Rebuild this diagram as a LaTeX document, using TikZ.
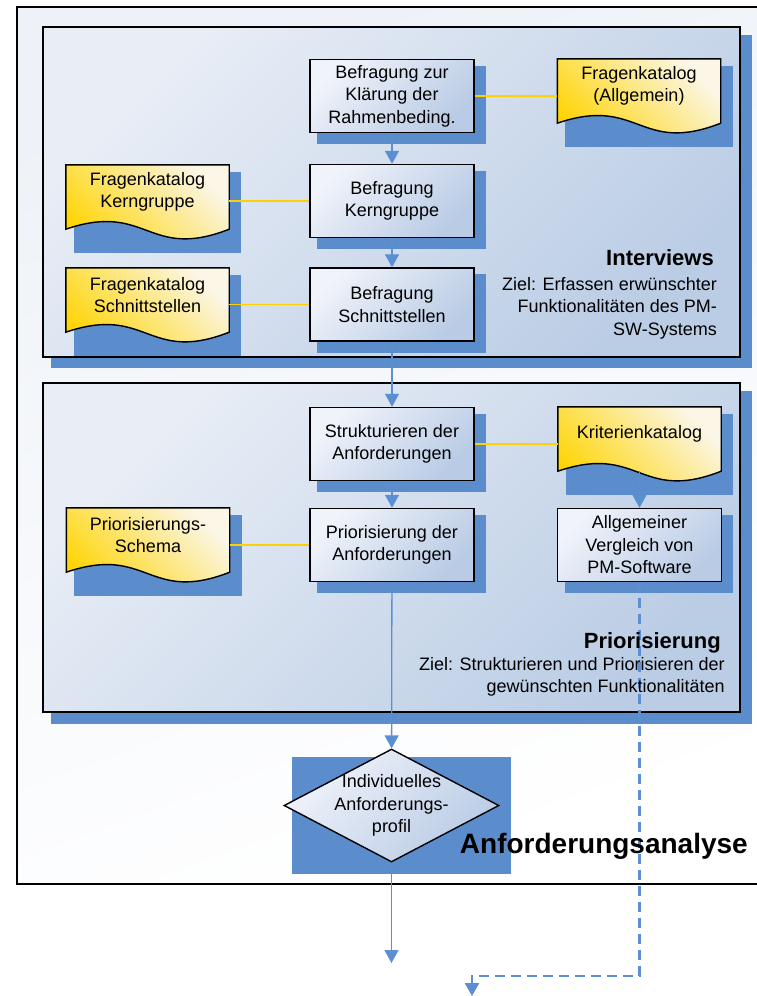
\documentclass[tikz,border=0pt]{standalone}
\usepackage{fontspec}
\setmainfont{Liberation Sans}
\usetikzlibrary{arrows.meta, shapes.geometric}

\pgfdeclarelayer{back}
\pgfsetlayers{back,main}

\definecolor{shblue}{HTML}{5B8DCC}
\definecolor{flowblue}{HTML}{5B8FD2}
\definecolor{docgold}{HTML}{FFD400}
\definecolor{docpale}{HTML}{FBF6E6}
\definecolor{linkgold}{HTML}{FFD000}
\definecolor{grplight}{HTML}{E9EEF6}
\definecolor{grpdark}{HTML}{BBCDE5}
\definecolor{boxlight}{HTML}{F0F3FA}
\definecolor{boxdark}{HTML}{B9CBE5}
\definecolor{outlight}{HTML}{EEF2F8}

\newcommand{\docshape}[1]{%
  \fill[shblue] ([shift={(8,7)}]#1.north west) rectangle ([shift={(12,34)}]#1.south east);
  \shadedraw[line width=1.4pt, top color=docpale, bottom color=docgold, shading angle=-45]
    (#1.north west) -- (#1.north east) -- ([shift={(0,10)}]#1.south east)
    .. controls ([shift={(0,42)}]#1.south) and ([shift={(0,-18)}]#1.south) ..
    ([shift={(0,10)}]#1.south west) -- cycle;}

\begin{document}
\begin{tikzpicture}[x=1pt, y=-1pt]
    \tikzstyle{every node} = [font=\fontsize{18}{22.5}\selectfont, inner sep=0pt, align=center]
    \tikzstyle{outerbox} = [draw, line width=2.4pt, top color=outlight, bottom color=white, shading angle=20]
    \tikzstyle{grpbox} = [draw, line width=2.4pt, top color=grplight, bottom color=grpdark, shading angle=45]
    \tikzstyle{procbox} = [draw, line width=1.4pt, minimum width=164pt, minimum height=73pt, top color=boxlight, bottom color=boxdark, shading angle=45]
    \tikzstyle{docnode} = [minimum width=163pt, minimum height=54pt]
    \tikzstyle{profile} = [diamond, draw, line width=1.4pt, minimum width=215pt, minimum height=113pt, top color=boxlight, bottom color=boxdark, shading angle=45]
    \tikzstyle{flow} = [flowblue, line width=1.3pt, -{Triangle[length=13pt, width=14pt]}]
    \tikzstyle{flowdash} = [flow, line width=2.6pt, dash pattern=on 10pt off 6pt]
    \tikzstyle{yline} = [linkgold, line width=1.8pt]
    \tikzstyle{grptitle} = [font=\fontsize{22}{26}\selectfont\bfseries]
    \tikzstyle{goal} = [align=right]
    \useasboundingbox (0,0) rectangle (756,996);
    \clip (0,0) rectangle (756,996);

    \begin{pgfonlayer}{back}
      \shadedraw[outerbox] (17,7) rectangle (775,884);
      \fill[shblue] (51,35) rectangle (752,368);
      \shadedraw[grpbox] (43,27) rectangle (740,357);
      \fill[shblue] (51,391) rectangle (752,724);
      \shadedraw[grpbox] (43,383) rectangle (740,712);
    \end{pgfonlayer}

    \node (b1) [procbox] at (392, 96) {Befragung zur\\Klärung der\\Rahmenbeding.};
    \node (b2) [procbox] at (392, 201) {Befragung\\Kerngruppe};
    \node (b3) [procbox] at (392, 304.5) {Befragung\\Schnittstellen};
    \node (b4) [procbox] at (392, 444) {Strukturieren der\\Anforderungen};
    \node (b5) [procbox] at (392, 545) {Priorisierung der\\Anforderungen};
    \node (b6) [procbox] at (639.5, 545) {Allgemeiner\\Vergleich von\\PM-Software};
    \node (fk1) [docnode] at (639, 86) {Fragenkatalog\\(Allgemein)};
    \node (fk2) [docnode] at (147.5, 192) {Fragenkatalog\\Kerngruppe};
    \node (fk3) [docnode] at (147.5, 295) {Fragenkatalog\\Schnittstellen};
    \node (ps) [docnode] at (148, 535) {Priorisierungs-\\Schema};
    \node (krit) [docnode] at (639.5, 434) {Kriterienkatalog};
    \node (prof) [profile, label={[name=proftext]center:Individuelles\\Anforderungs-\\profil}] at (391.5, 805.5) {};
    \coordinate (out1) at (391.5, 963);
    \coordinate (bend) at (472, 976);
    \coordinate (out2) at (472, 996);

    \begin{pgfonlayer}{back}
      \foreach \n in {b1,b2,b3,b4,b5,b6}
        \fill[shblue] ([shift={(8,7)}]\n.north west) rectangle ([shift={(11,11)}]\n.south east);
      \foreach \n in {fk1,fk2,fk3,ps,krit}
        \docshape{\n};
      \fill[shblue] (292,757) rectangle (511,874);
    \end{pgfonlayer}

    \draw [yline] (b1.east) -- (b1.east -| fk1.west);
    \draw [yline] (fk2.east |- b2.west) -- (b2.west);
    \draw [yline] (fk3.east |- b3.west) -- (b3.west);
    \draw [yline] (b4.east) -- (b4.east -| krit.west);
    \draw [yline] (ps.east |- b5.west) -- (b5.west);

    \draw [flow] (b1) -- (b2);
    \draw [flow] (b2) -- (b3);
    \draw [flow] (b3) -- (b4);
    \draw [flow] (b4) -- (b5);
    \draw [flow] (b5) -- (prof);
    \draw [flow] (prof) -- (out1);
    \draw [flow] ([shift={(0,10)}]krit.south) -- (b6);
    \draw [flowdash] (b6.south) |- (bend) -- (out2);

    \node (ivtitle) [grptitle, anchor=base east] at (714, 265) {Interviews};
    \node (ivgoal) [goal, anchor=north east] at (717, 277) {Ziel: Erfassen erwünschter\\Funktionalitäten des PM-\\SW-Systems};
    \node (prtitle) [grptitle, anchor=base east] at (721, 648) {Priorisierung};
    \node (prgoal) [goal, anchor=north east] at (725, 657) {Ziel: Strukturieren und Priorisieren der\\gewünschten Funktionalitäten};
    \node (analyse) [font=\fontsize{28}{32}\selectfont\bfseries, anchor=base east] at (748, 853) {Anforderungsanalyse};
\end{tikzpicture}
\end{document}
